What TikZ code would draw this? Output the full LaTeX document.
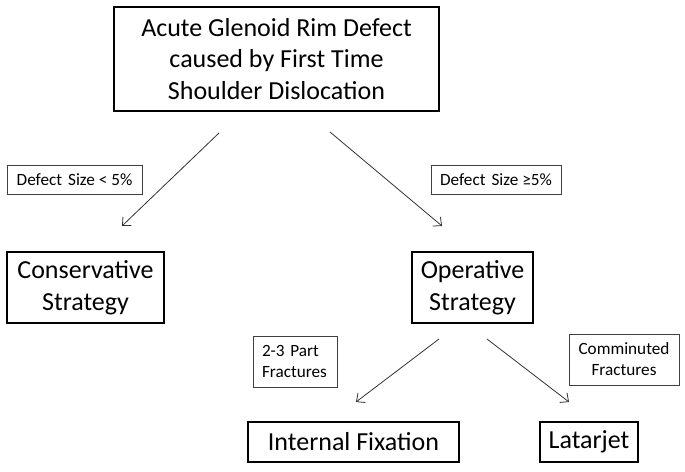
\documentclass[tikz,border=0pt]{standalone}
\usepackage{fontspec}
\setmainfont{Carlito}
\usetikzlibrary{arrows.meta}
\begin{document}
\begin{tikzpicture}[x=1pt,y=-1pt,
  bigbox/.style={draw=black, line width=1.1pt, inner sep=0pt, align=center, font=\fontsize{26}{31.5}\selectfont},
  lblbox/.style={draw=black!75, line width=0.9pt, inner sep=0pt, align=center, font=\fontsize{17.2}{21}\selectfont},
  conn/.style={draw=black!80, line width=0.8pt, -{Straight Barb[length=6.5pt,width=12pt]}}]
\fill[white] (0,0) rectangle (685,471);
\useasboundingbox (0,0) rectangle (685,471);
% main boxes
\node[bigbox, minimum width=325pt, minimum height=104pt] (top) at (276.5,59)
  {Acute Glenoid Rim Defect\\caused by First Time\\Shoulder Dislocation};
\node[bigbox, minimum width=157pt, minimum height=71pt] (cons) at (85.5,287.5)
  {Conservative\\Strategy};
\node[bigbox, minimum width=121pt, minimum height=71pt] (oper) at (472.5,287.5)
  {Operative\\Strategy};
\node[bigbox, minimum width=211pt, minimum height=40pt] (intfix) at (353.5,442)
  {Internal Fixation};
\node[bigbox, minimum width=98pt, minimum height=40pt] (latar) at (589,442)
  {Latarjet};
% label boxes
\node[lblbox, minimum width=135pt, minimum height=29pt] (lsmall) at (74.5,179.5)
  {Defect\hspace{0.35em}Size < 5\%};
\node[lblbox, minimum width=130pt, minimum height=29pt] (llarge) at (496,179.5)
  {Defect\hspace{0.35em}Size ≥5\%};
\node[lblbox, text width=66pt, align=left, inner xsep=9pt, minimum height=51pt] (lpart) at (295,361.5)
  {2-3 Part\\Fractures};
\node[lblbox, minimum width=110pt, minimum height=51pt] (lcomm) at (624,359.5)
  {Comminuted\\Fractures};
% connector end points
\coordinate (a1s) at (219,133);
\coordinate (a1e) at (122,226);
\coordinate (a2s) at (330,132);
\coordinate (a2e) at (442,226);
\coordinate (a3s) at (439,339);
\coordinate (a3e) at (356,402);
\coordinate (a4s) at (487,339);
\coordinate (a4e) at (569,402);
\draw[conn] (a1s) -- (a1e);
\draw[conn] (a2s) -- (a2e);
\draw[conn] (a3s) -- (a3e);
\draw[conn] (a4s) -- (a4e);
\end{tikzpicture}
\end{document}
